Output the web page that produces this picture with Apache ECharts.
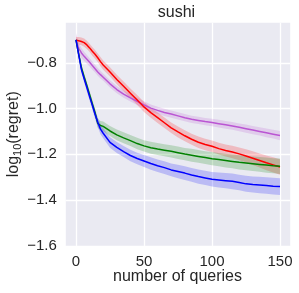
<!DOCTYPE html>
<html><head><meta charset="utf-8">
<script src="https://cdn.jsdelivr.net/npm/echarts@6/dist/echarts.min.js"></script>
<style>html,body{margin:0;padding:0;background:#fff}#c{width:299px;height:293px}</style>
</head><body><div id="c"></div>
<script>
const queries = [0,2,4,6,8,10,12,14,16,18,20,25,30,35,40,45,50,55,60,65,70,75,80,85,90,95,100,105,110,115,120,125,130,135,140,145,150];
const xTicks = [0,50,100,150];
const yTicks = [-1.6,-1.4,-1.2,-1.0,-0.8];

const blueMean = [-0.700,-0.765,-0.830,-0.870,-0.908,-0.948,-0.985,-1.025,-1.060,-1.090,-1.108,-1.148,-1.170,-1.188,-1.205,-1.218,-1.229,-1.240,-1.250,-1.258,-1.268,-1.275,-1.282,-1.290,-1.297,-1.303,-1.309,-1.312,-1.315,-1.318,-1.323,-1.329,-1.332,-1.334,-1.336,-1.339,-1.341];
const blueSpread = [0.008,0.012,0.015,0.016,0.017,0.018,0.019,0.020,0.021,0.022,0.022,0.023,0.024,0.024,0.025,0.025,0.026,0.027,0.027,0.028,0.028,0.029,0.030,0.030,0.031,0.031,0.032,0.033,0.033,0.034,0.034,0.035,0.035,0.036,0.036,0.037,0.037];

const greenMean = [-0.700,-0.763,-0.822,-0.862,-0.900,-0.940,-0.980,-1.018,-1.065,-1.074,-1.078,-1.098,-1.115,-1.128,-1.140,-1.153,-1.163,-1.171,-1.177,-1.182,-1.187,-1.193,-1.199,-1.204,-1.209,-1.214,-1.219,-1.223,-1.227,-1.231,-1.235,-1.238,-1.241,-1.244,-1.247,-1.250,-1.252];
const greenSpread = [0.008,0.012,0.014,0.015,0.016,0.017,0.018,0.019,0.020,0.020,0.021,0.022,0.023,0.024,0.024,0.025,0.025,0.026,0.026,0.026,0.027,0.027,0.027,0.028,0.028,0.028,0.029,0.029,0.030,0.030,0.031,0.031,0.032,0.032,0.033,0.033,0.034];

const redMean = [-0.702,-0.704,-0.707,-0.712,-0.722,-0.735,-0.750,-0.763,-0.778,-0.795,-0.810,-0.840,-0.873,-0.903,-0.933,-0.963,-0.993,-1.018,-1.040,-1.062,-1.084,-1.102,-1.119,-1.134,-1.147,-1.157,-1.165,-1.175,-1.183,-1.190,-1.198,-1.207,-1.217,-1.227,-1.237,-1.246,-1.255];
const redSpread = [0.015,0.016,0.017,0.018,0.018,0.018,0.019,0.019,0.019,0.020,0.020,0.020,0.021,0.021,0.021,0.022,0.022,0.022,0.023,0.023,0.023,0.024,0.024,0.024,0.025,0.025,0.025,0.026,0.026,0.027,0.028,0.029,0.030,0.031,0.032,0.033,0.034];

const purpleMean = [-0.700,-0.737,-0.757,-0.772,-0.785,-0.798,-0.812,-0.826,-0.840,-0.852,-0.863,-0.892,-0.917,-0.937,-0.953,-0.969,-0.984,-0.998,-1.008,-1.017,-1.024,-1.032,-1.040,-1.047,-1.052,-1.057,-1.061,-1.066,-1.071,-1.076,-1.082,-1.088,-1.094,-1.100,-1.106,-1.112,-1.118];
const purpleSpread = [0.030,0.025,0.022,0.020,0.019,0.018,0.018,0.017,0.017,0.017,0.016,0.016,0.016,0.016,0.016,0.016,0.016,0.016,0.016,0.016,0.016,0.016,0.016,0.016,0.016,0.016,0.016,0.017,0.017,0.017,0.017,0.018,0.018,0.018,0.019,0.019,0.020];

const seriesDefs = [
  {name:'purple', color:'#BA55D3', mean:purpleMean, spread:purpleSpread},
  {name:'red', color:'#FF0000', mean:redMean, spread:redSpread},
  {name:'green', color:'#008000', mean:greenMean, spread:greenSpread},
  {name:'blue', color:'#0000FF', mean:blueMean, spread:blueSpread}
];

const W = 299, H = 293;
const plotL = 65.8, plotR = 290.2, plotT = 22.7, plotB = 245.9;
const xMin = -7.5, xMax = 157.5, yMin = -1.6, yMax = -0.625;
const pxPerX = (plotR - plotL) / (xMax - xMin);
const pxPerY = (plotB - plotT) / (yMax - yMin);
const TEXT = '#262626';
const FONT = 'Liberation Sans, Arial, sans-serif';
const minus = s => s.replace('-', '\u2212');

const chart = echarts.init(document.getElementById('c'), null, {renderer:'canvas'});

function bandSeries(d) {
  const data = queries.map((q,i)=>[q, d.mean[i]-d.spread[i], d.mean[i]+d.spread[i]]);
  return {
    type:'custom', xAxisIndex:0, yAxisIndex:0, silent:true, clip:true,
    data: data, encode:{x:0, y:[1,2]},
    renderItem: function(params, api) {
      if (params.dataIndex !== 0) return null;
      const pts = [];
      for (let i=0;i<data.length;i++) pts.push(api.coord([data[i][0], data[i][2]]));
      for (let i=data.length-1;i>=0;i--) pts.push(api.coord([data[i][0], data[i][1]]));
      return {type:'polygon', shape:{points:pts}, style:{fill:d.color, opacity:0.2}};
    },
    z:1
  };
}
function lineSeries(d) {
  return {
    type:'line', xAxisIndex:0, yAxisIndex:0, name:d.name,
    data: queries.map((q,i)=>[q, d.mean[i]]),
    showSymbol:false, symbol:'none', silent:true,
    lineStyle:{color:d.color, width:1.5}, itemStyle:{color:d.color},
    z:3, animation:false
  };
}

// measure text widths for y label
const mc = document.createElement('canvas').getContext('2d');
function tw(t, size){ mc.font = size + 'px ' + FONT; return mc.measureText(t).width; }
const labFs = 16, subFs = 11;
const w1 = tw('log', labFs), w2 = tw('10', subFs), w3 = tw('(regret)', labFs);
const startX = -(w1+w2+w3)/2;

const option = {
  animation:false,
  backgroundColor:'#ffffff',
  grid:[
    {left:plotL, right:W-plotR, top:plotT, bottom:H-plotB, show:true, backgroundColor:'#EAEAF2', borderWidth:0},
    {left:76, right:W-280, top:plotT, bottom:H-plotB, show:false},
    {left:plotL, right:W-plotR, top:plotB-(-0.8-yMin)*pxPerY, bottom:H-plotB, show:false}
  ],
  xAxis:[
    {gridIndex:0, type:'value', min:xMin, max:xMax, show:false},
    {gridIndex:1, type:'value', min:0, max:150, interval:50,
     axisLine:{show:false}, axisTick:{show:false},
     splitLine:{show:true, lineStyle:{color:'#ffffff', width:1.3}},
     axisLabel:{color:TEXT, fontSize:15, fontFamily:FONT, margin:8}, z:0},
    {gridIndex:2, type:'value', min:0, max:1, show:false}
  ],
  yAxis:[
    {gridIndex:0, type:'value', min:yMin, max:yMax, show:false},
    {gridIndex:1, type:'value', min:0, max:1, show:false},
    {gridIndex:2, type:'value', min:-1.6, max:-0.8, interval:0.2,
     axisLine:{show:false}, axisTick:{show:false},
     splitLine:{show:true, lineStyle:{color:'#ffffff', width:1.3}},
     axisLabel:{color:TEXT, fontSize:15, fontFamily:FONT, margin:9,
       formatter: v => minus(v.toFixed(1))}, z:0}
  ],
  series: seriesDefs.map(bandSeries).concat(seriesDefs.map(lineSeries)),
  graphic:[
    {type:'text', left:'auto', x:176.5, y:12.8, style:{text:'sushi', fill:TEXT, font:'16px '+FONT, textAlign:'center', textVerticalAlign:'middle'}, z:10},
    {type:'text', x:177.5, y:276.5, style:{text:'number of queries', fill:TEXT, font:'16px '+FONT, textAlign:'center', textVerticalAlign:'middle'}, z:10},
    {type:'group', x:14, y:134.3, rotation:Math.PI/2, z:10, children:[
      {type:'text', x:startX, y:0, style:{text:'log', fill:TEXT, font:labFs+'px '+FONT, textAlign:'left', textVerticalAlign:'middle'}},
      {type:'text', x:startX+w1, y:4, style:{text:'10', fill:TEXT, font:subFs+'px '+FONT, textAlign:'left', textVerticalAlign:'middle'}},
      {type:'text', x:startX+w1+w2, y:0, style:{text:'(regret)', fill:TEXT, font:labFs+'px '+FONT, textAlign:'left', textVerticalAlign:'middle'}}
    ]}
  ]
};
chart.setOption(option);
</script></body></html>
